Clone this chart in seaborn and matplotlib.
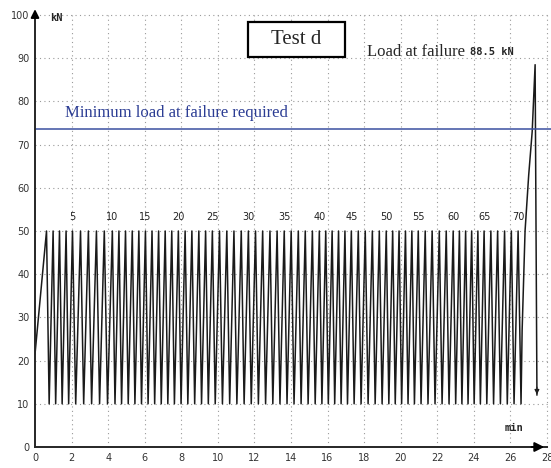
import matplotlib
matplotlib.use("Agg")
import matplotlib.pyplot as plt
from matplotlib.patches import Rectangle
import seaborn as sns
import pandas as pd
import numpy as np

# values
load_min = 10.0     # kN, bottom of each cycle
load_max = 50.0     # kN, top of each cycle
start_load = 21.5   # kN at t = 0
required_load = 73.5
failure_load = 88.5

# time (min) of each cycle peak, cycles 1..70
peak_times = [0.63, 0.99, 1.34, 1.70, 2.05,
              2.49, 2.92, 3.36, 3.79, 4.23,
              4.59, 4.95, 5.32, 5.68, 6.04,
              6.40, 6.76, 7.12, 7.48, 7.84,
              8.21, 8.58, 8.96, 9.33, 9.70,
              10.09, 10.49, 10.88, 11.28, 11.67,
              12.06, 12.45, 12.85, 13.24, 13.63,
              14.01, 14.40, 14.78, 15.17, 15.55,
              15.90, 16.25, 16.60, 16.95, 17.30,
              17.68, 18.06, 18.45, 18.83, 19.21,
              19.56, 19.91, 20.26, 20.61, 20.96,
              21.34, 21.72, 22.11, 22.49, 22.87,
              23.21, 23.55, 23.88, 24.22, 24.56,
              24.93, 25.30, 25.68, 26.05, 26.42]

# final ramp to failure and drop afterwards
ramp_times = [26.58, 26.64, 26.80, 27.00, 27.19, 27.35, 27.45]
ramp_loads = [10.0, 27.0, 50.0, 63.0, 73.0, 88.5, 12.0]

cycle_labels = [5, 10, 15, 20, 25, 30, 35, 40, 45, 50, 55, 60, 65, 70]
cycle_label_x = [2.05, 4.23, 6.04, 7.84, 9.70, 11.67, 13.63, 15.55,
                 17.30, 19.21, 20.96, 22.87, 24.56, 26.42]

x_ticks = list(range(0, 29, 2))
y_ticks = list(range(0, 101, 10))

# build the load trace: trough between each pair of peaks
t = [0.0]
f = [start_load]
for i, p in enumerate(peak_times):
    t.append(p)
    f.append(load_max)
    if i + 1 < len(peak_times):
        t.append(p + 0.4 * (peak_times[i + 1] - p))
        f.append(load_min)
t += ramp_times
f += ramp_loads
data = pd.DataFrame({"time": t, "load": f})

sns.set_style("white")
fig = plt.figure(figsize=(5.51, 4.68), dpi=100)
ax = fig.add_axes([35 / 551, 21 / 468, 512 / 551, 432 / 468])

sns.lineplot(data=data, x="time", y="load", ax=ax, color="#1a1a1a",
             linewidth=1.1, sort=False, estimator=None)

ax.set_xlim(0, 28)
ax.set_ylim(0, 100)
ax.set_xticks(x_ticks)
ax.set_yticks(y_ticks)
ax.tick_params(length=0, labelsize=7, colors="#333333", pad=4)
ax.set_xlabel("")
ax.set_ylabel("")

# dotted grid
for x in x_ticks[1:]:
    ax.plot([x, x], [0, 100], color="#9a9a9a", lw=0.8, ls=(0, (1, 3)),
            zorder=0, clip_on=False)
for y in y_ticks[1:]:
    ax.plot([0, 28.2], [y, y], color="#9a9a9a", lw=0.8, ls=(0, (1, 3)),
            zorder=0, clip_on=False)

for s in ["top", "right"]:
    ax.spines[s].set_visible(False)
ax.spines["left"].set_linewidth(1.4)
ax.spines["bottom"].set_linewidth(1.4)

# axis arrows
ax.annotate("", xy=(0, 102), xytext=(0, 99), annotation_clip=False,
            arrowprops=dict(arrowstyle="-|>", color="black", lw=1.4,
                            mutation_scale=12))
ax.annotate("", xy=(28.0, 0), xytext=(27.0, 0), annotation_clip=False,
            arrowprops=dict(arrowstyle="-|>", color="black", lw=1.4,
                            mutation_scale=14))

ax.text(0.82, 99.3, "kN", fontsize=7.5, fontweight="bold", family="DejaVu Sans Mono",
        va="center", ha="left")
ax.text(25.7, 4.4, "min", fontsize=7.5, fontweight="bold", family="DejaVu Sans Mono",
        va="center", ha="left")

# required minimum load
ax.plot([0, 28.3], [required_load, required_load], color="#3a4fa0", lw=1.1,
        clip_on=False)
ax.text(1.64, 77.2, "Minimum load at failure required", color="#2c3d94",
        family="Liberation Serif", fontsize=12, va="center", ha="left")

# title box
ax.add_patch(Rectangle((11.65, 90.3), 5.3, 8.1, fc="white", ec="black",
                       lw=1.6, zorder=5))
ax.text(14.3, 94.3, "Test d", family="Liberation Serif", fontsize=15,
        va="center", ha="center", zorder=6)

ax.text(18.16, 91.5, "Load at failure", family="Liberation Serif", fontsize=12,
        va="center", ha="left")
ax.text(23.8, 91.5, f"{failure_load} kN", family="DejaVu Sans Mono",
        fontweight="bold", fontsize=7.5, va="center", ha="left")

# drop arrow after failure
ax.annotate("", xy=(27.45, 11.5), xytext=(27.45, 14.5),
            arrowprops=dict(arrowstyle="-|>", color="#1e1e1e", lw=0.8,
                            mutation_scale=7))

for n, x in zip(cycle_labels, cycle_label_x):
    ax.text(x, 53.2, str(n), fontsize=7, color="#222222", ha="center",
            va="center")

fig.savefig("out.png", dpi=100)
